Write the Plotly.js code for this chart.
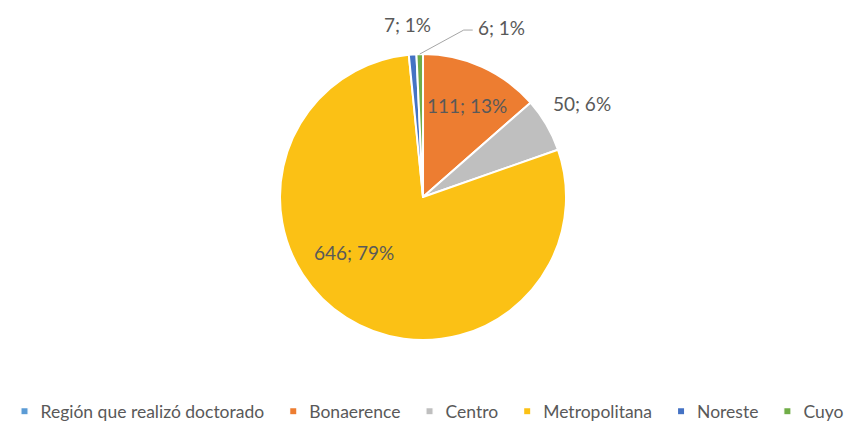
<!DOCTYPE html>
<html>
<head>
<meta charset="utf-8">
<script src="https://cdn.plot.ly/plotly-3.0.1.min.js"></script>
<style>html,body{margin:0;padding:0;background:#fff;}#chart{width:849px;height:424px;}</style>
</head>
<body>
<div id="chart"></div>
<script>
const categories = ["Región que realizó doctorado", "Bonaerence", "Centro", "Metropolitana", "Noreste", "Cuyo"];
const values = [0, 111, 50, 646, 7, 6];
const percents = [null, 13, 6, 79, 1, 1];
const colors = ["#5B9BD5", "#ED7D31", "#BFBFBF", "#FBC115", "#4472C4", "#70AD47"];

// label placement style (radius fraction, angle shift in degrees, leader line)
const labelStyle = [null, {r: 0.71, shift: 1}, {r: 1.29, shift: 0}, {r: 0.62, shift: 18.5}, {r: 1.21, shift: -1}, {leader: true}];

const W = 849, H = 424;
const domX = [0.3298, 0.6667], domY = [0.198, 0.8726];
const cxPx = (domX[0] + domX[1]) / 2 * W;
const cyPx = H - (domY[0] + domY[1]) / 2 * H;
const R = Math.min((domX[1] - domX[0]) * W, (domY[1] - domY[0]) * H) / 2;

const total = values.reduce((a, b) => a + b, 0);
const texts = values.map((v, i) => percents[i] === null ? "" : v + "; " + percents[i] + "%");
const txtFont = {family: "Lato, Liberation Sans, sans-serif", size: 19, color: "#595959"};

const annotations = [];
const shapes = [];
let cum = 0;
values.forEach((v, i) => {
  const mid = (cum + v / 2) / total * 360;
  cum += v;
  const st = labelStyle[i];
  if (!st || v === 0) return;
  const toPaper = (px, py) => [px / W, 1 - py / H];
  if (st.leader) {
    const a = mid * Math.PI / 180;
    const ex = cxPx + R * Math.sin(a), ey = cyPx - R * Math.cos(a);
    const p0 = toPaper(ex, ey), p1 = toPaper(ex + 44, ey - 24), p2 = toPaper(ex + 53, ey - 24);
    shapes.push({type: "path", xref: "paper", yref: "paper",
      path: `M${p0[0]},${p0[1]} L${p1[0]},${p1[1]} L${p2[0]},${p2[1]}`,
      line: {color: "#A6A6A6", width: 1}});
    const t = toPaper(ex + 56, ey - 27);
    annotations.push({x: t[0], y: t[1], xref: "paper", yref: "paper", text: texts[i],
      showarrow: false, xanchor: "left", yanchor: "middle", font: txtFont});
  } else {
    const a = (mid + st.shift) * Math.PI / 180;
    const px = cxPx + st.r * R * Math.sin(a), py = cyPx - st.r * R * Math.cos(a);
    const t = toPaper(px, py);
    annotations.push({x: t[0], y: t[1], xref: "paper", yref: "paper", text: texts[i],
      showarrow: false, xanchor: "center", yanchor: "middle", font: txtFont});
  }
});

const trace = {
  type: "pie",
  labels: categories,
  values: values,
  textinfo: "none",
  sort: false,
  direction: "clockwise",
  rotation: 0,
  marker: {colors: colors, line: {color: "#FFFFFF", width: 2}},
  domain: {x: domX, y: domY},
  hoverinfo: "label+value+percent"
};

const layout = {
  width: W, height: H,
  margin: {l: 0, r: 0, t: 0, b: 0, autoexpand: false},
  paper_bgcolor: "#FFFFFF",
  showlegend: true,
  legend: {orientation: "h", x: 0.5, xanchor: "center", y: 0.03, yanchor: "middle",
           font: {family: "Lato, Liberation Sans, sans-serif", size: 17.5, color: "#595959"},
           traceorder: "normal", itemwidth: 30},
  annotations: annotations,
  shapes: shapes,
  font: {family: "Lato, Liberation Sans, sans-serif", color: "#595959"}
};

Plotly.newPlot("chart", [trace], layout, {displayModeBar: false, staticPlot: true}).then(gd => {
  gd.querySelectorAll(".legendpoints path").forEach(p => {
    const tr = p.getAttribute("transform") || "";
    p.setAttribute("transform", "translate(4,0) " + tr + " scale(0.6)");
  });
});
</script>
</body>
</html>
